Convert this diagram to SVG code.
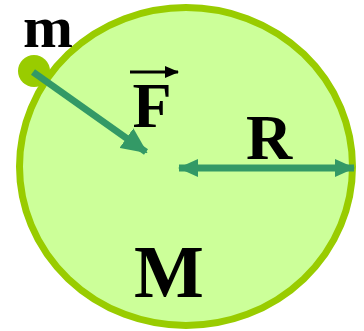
<svg xmlns="http://www.w3.org/2000/svg" width="364" height="331" viewBox="0 0 364 331">
<style>
.lbl{font-family:"Liberation Serif","Times New Roman",serif;font-weight:bold;fill:#000;text-anchor:middle}
.arr{stroke:#339966;stroke-width:7;fill:none}
</style>
<defs>
<marker id="ah" markerUnits="userSpaceOnUse" markerWidth="26" markerHeight="24" refX="24" refY="12" orient="auto-start-reverse" viewBox="0 0 26 24">
<path d="M0,0 L26,12 L0,24 Z" fill="#339966"/>
</marker>
<marker id="ahr" markerUnits="userSpaceOnUse" markerWidth="20" markerHeight="18" refX="19" refY="9" orient="auto-start-reverse" viewBox="0 0 20 18">
<path d="M0,0 L20,9 L0,18 Z" fill="#339966"/>
</marker>
<marker id="vec" markerUnits="userSpaceOnUse" markerWidth="14" markerHeight="12" refX="13" refY="6" orient="auto" viewBox="0 0 14 12">
<path d="M0,0 L14,6 L0,12 Z" fill="#000"/>
</marker>
</defs>
<g id="body">
<ellipse cx="186" cy="166.5" rx="166.5" ry="159" fill="#ccff99" stroke="#99cc00" stroke-width="7"/>
</g>
<g id="mass">
<circle cx="34" cy="71" r="16" fill="#99cc00"/>
</g>
<g id="connectors">
<line class="arr" x1="33" y1="72" x2="146" y2="152" marker-end="url(#ah)"/>
<line class="arr" x1="179" y1="168" x2="354" y2="168" marker-start="url(#ahr)" marker-end="url(#ahr)"/>
<line x1="130" y1="72" x2="178" y2="72" stroke="#000" stroke-width="3" marker-end="url(#vec)"/>
</g>
<g id="labels">
<text class="lbl" x="48" y="47" font-size="60">m</text>
<text class="lbl" x="152" y="127" font-size="64">F</text>
<text class="lbl" x="269" y="159" font-size="64">R</text>
<text class="lbl" x="169" y="297" font-size="74">M</text>
</g>
</svg>
